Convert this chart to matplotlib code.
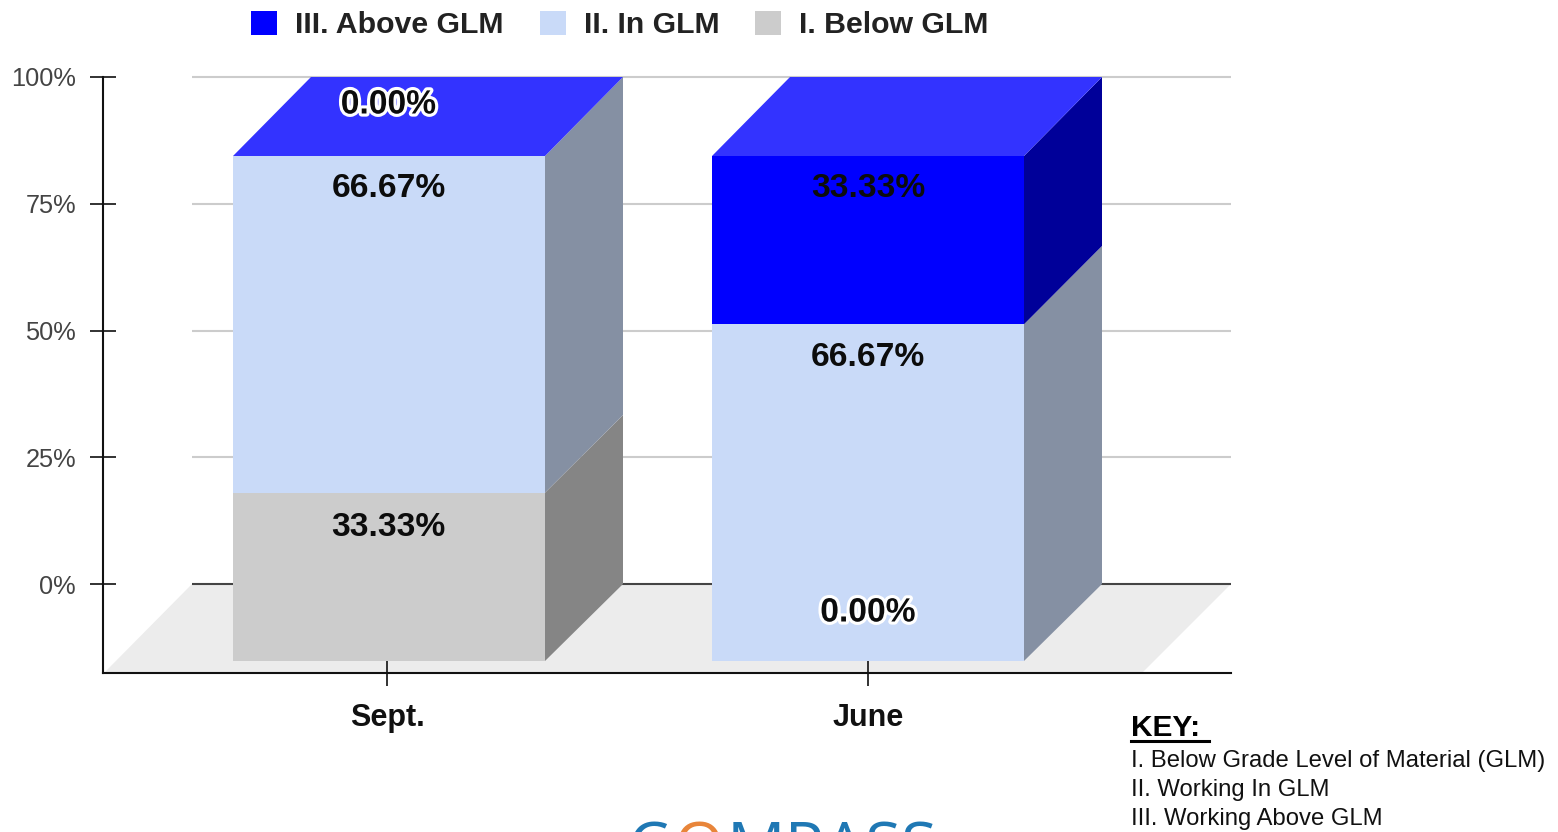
import matplotlib
matplotlib.use("Agg")
import matplotlib.pyplot as plt
import matplotlib.patheffects as pe
from matplotlib.patches import Polygon, Patch
from matplotlib.lines import Line2D

categories = ["Sept.", "June"]
series_names = ["I. Below GLM", "II. In GLM", "III. Above GLM"]
below = [33.33, 0.0]
in_glm = [66.67, 66.67]
above = [0.0, 33.33]
series_values = [below, in_glm, above]
y_ticks = [0, 25, 50, 75, 100]
y_tick_labels = ["0%", "25%", "50%", "75%", "100%"]
key_lines = ["I. Below Grade Level of Material (GLM)", "II. Working In GLM", "III. Working Above GLM"]

front_colors = ["#cccccc", "#c9daf8", "#0000ff"]
side_colors = ["#858585", "#8590a3", "#000099"]
top_colors = ["#e0e0e0", "#d4e1fa", "#3333ff"]

W, H = 1558, 832
PX_X = 481.0   # px per category
PX_Y = 5.07    # px per percent
X0 = 387.0     # px of category 0
Y0 = 584.0     # px of 0%
def fx(px): return (px - X0) / PX_X
def fy(py): return (Y0 - py) / PX_Y

DX = 78 / PX_X
DY = 77 / PX_Y
BW = 312 / PX_X
FRONT_SCALE = 505 / 507
BAR_SHIFT = [2 / PX_X, 0.0]

fig = plt.figure(figsize=(W / 100, H / 100), dpi=100)
ax = fig.add_axes([0, 0, 1, 1])
ax.set_xlim(fx(0), fx(W))
ax.set_ylim(fy(H), fy(0))
ax.patch.set_alpha(0)

# floor
ax.add_patch(Polygon([(fx(192), 0), (fx(1231), 0), (fx(1143), fy(672)), (fx(105), fy(672))],
                     closed=True, fc="#ececec", ec="none", zorder=1))
# gridlines
for t in y_ticks:
    c = "#444444" if t == 0 else "#cccccc"
    ax.plot([fx(192), fx(1231)], [t, t], color=c, lw=1.5, zorder=2, solid_capstyle="butt")

# 3D bars
for i in range(len(categories)):
    left = i - BW / 2 + BAR_SHIFT[i]
    right = left + BW
    base = 0.0
    for k, vals in enumerate(series_values):
        v = vals[i]
        if v > 0:
            y0 = base * FRONT_SCALE - DY
            y1 = (base + v) * FRONT_SCALE - DY
            ax.add_patch(Polygon([(left, y0), (right, y0), (right, y1), (left, y1)],
                                 closed=True, fc=front_colors[k], ec="none", zorder=4))
            ax.add_patch(Polygon([(right, y0), (right + DX, base), (right + DX, base + v), (right, y1)],
                                 closed=True, fc=side_colors[k], ec="none", zorder=3))
        base += v
    ytop = base * FRONT_SCALE - DY
    ax.add_patch(Polygon([(left, ytop), (right, ytop), (right + DX, base), (left + DX, base)],
                         closed=True, fc=top_colors[-1], ec="none", zorder=3))

def dlabel(txt, i, py, outlined=False):
    t = ax.text(i + BAR_SHIFT[i] * 0.75, fy(py), txt, ha="center", va="center", fontsize=24.2,
                family="Liberation Sans", fontweight="bold", color="#0c0c0c", zorder=6)
    if outlined:
        t.set_path_effects([pe.withStroke(linewidth=4.5, foreground="white")])
for i, lab, py, o in [(0, "0.00%", 105, True), (0, "66.67%", 188.5, False), (0, "33.33%", 527, False),
                      (1, "33.33%", 188.5, False), (1, "66.67%", 358, False), (1, "0.00%", 613, True)]:
    dlabel(lab, i, py, o)

# axes lines
for s in ["top", "right"]:
    ax.spines[s].set_visible(False)
ax.spines["left"].set_position(("data", fx(103)))
ax.spines["left"].set_bounds(fy(673), 100)
ax.spines["bottom"].set_position(("data", fy(673)))
ax.spines["bottom"].set_bounds(fx(103), fx(1231))
for s in ["left", "bottom"]:
    ax.spines[s].set_linewidth(1.5)
    ax.spines[s].set_color("#111111")
    ax.spines[s].set_zorder(7)
ax.set_yticks(y_ticks, y_tick_labels)
ax.set_xticks(range(len(categories)), categories)
ax.tick_params(axis="y", direction="inout", length=18.7, width=1.3, color="#222222",
               labelsize=18.3, labelcolor="#444444", pad=10)
ax.tick_params(axis="x", direction="inout", length=18.7, width=1.3, color="#222222",
               labelsize=22, pad=12)
for t in ax.get_xticklabels():
    t.set_fontweight("bold"); t.set_family("Liberation Sans"); t.set_color("#111111")
for t in ax.get_yticklabels():
    t.set_family("Liberation Sans")

# legend
handles = [Patch(fc=front_colors[k], ec="none") for k in [2, 1, 0]]
leg = ax.legend(handles, [series_names[k] for k in [2, 1, 0]], ncol=3, frameon=False,
                loc="center", bbox_to_anchor=(620 / W, 1 - 25 / H),
                prop=dict(family="Liberation Sans", weight="bold", size=21.8),
                handlelength=0.85, handleheight=0.85, handletextpad=0.6, columnspacing=1.19,
                labelcolor="#222222", borderpad=0, borderaxespad=0)

# key
ax.text(fx(1131), fy(728), "KEY:", fontsize=21.5, fontweight="bold", family="Liberation Sans",
        va="center", ha="left", color="black")
fig.add_artist(Line2D([1131 / W, 1209 / W], [1 - 741 / H] * 2, color="black", lw=2.2))
for line, py in zip(key_lines, [761, 790, 819]):
    ax.text(fx(1131), fy(py), line, fontsize=17.2, family="Liberation Sans", va="center", ha="left",
            color="#111111")

# clipped logo wordmark
for txt, px, col in [("C", 628, "#1f78b4"), ("O", 674, "#e8853a"), ("MPASS", 727, "#1f78b4")]:
    ax.text(fx(px), fy(869), txt, fontsize=47, family="Open Sans", color=col, ha="left",
            va="baseline", clip_on=True)

fig.savefig("out.png", dpi=100)
